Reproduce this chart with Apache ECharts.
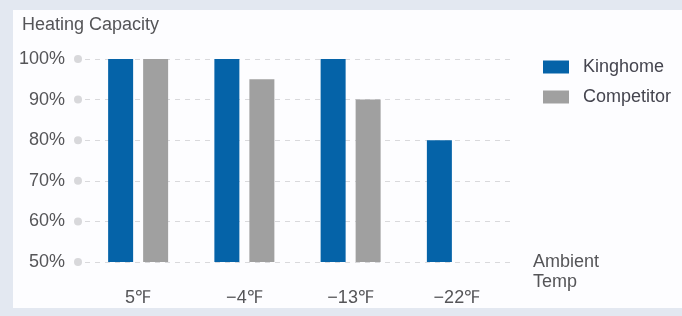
<!DOCTYPE html>
<html><head><meta charset="utf-8">
<script src="https://cdn.jsdelivr.net/npm/echarts@6/dist/echarts.min.js"></script>
<style>html,body{margin:0;padding:0;}#c{width:682px;height:316px;}</style>
</head><body><div id="c"></div>
<script>
const categories = ['5℉', '−4℉', '−13℉', '−22℉'];
const kinghome = [100, 100, 100, 80];
const competitor = [100, 95, 90, null];
const yTicks = [50, 60, 70, 80, 90, 100];

const textColor = '#555558';
const font = 'Liberation Sans, Arial, sans-serif';
const chart = echarts.init(document.getElementById('c'));
chart.setOption({
  backgroundColor: '#e3e8f1',
  animation: false,
  graphic: [{ type: 'rect', shape: { x: 13, y: 10, width: 669, height: 298 }, style: { fill: '#fdfdff' }, z: -1 }],
  title: [
    { text: 'Heating Capacity', left: 17, top: 11, textStyle: { fontSize: 18, fontWeight: 'normal', color: textColor, fontFamily: font } },
    { text: 'Ambient\nTemp', left: 533, top: 252, padding: 0, textStyle: { fontSize: 18, fontWeight: 'normal', color: textColor, fontFamily: font, lineHeight: 20 } }
  ],
  legend: {
    orient: 'vertical', left: 543, top: 58, padding: 0, icon: 'rect', itemWidth: 26, itemHeight: 13, itemGap: 12,
    textStyle: { fontSize: 18, color: '#45454f', fontFamily: font, padding: [0, 0, 0, 9] },
    data: ['Kinghome', 'Competitor']
  },
  grid: { left: 85, right: 172, top: 59, bottom: 54 },
  xAxis: {
    type: 'category', data: categories,
    axisLine: { show: false }, axisTick: { show: false },
    axisLabel: { margin: 27, fontSize: 18, color: textColor, fontFamily: font }
  },
  yAxis: {
    type: 'value', min: yTicks[0], max: yTicks[yTicks.length - 1], interval: 10,
    axisLine: { show: false },
    axisTick: { show: false },
    axisLabel: {
      margin: 3,
      formatter: v => '{t|' + v + '%}{s|}{d|}',
      rich: {
        t: { fontSize: 18, color: textColor, fontFamily: font },
        s: { width: 9, height: 2 },
        d: { width: 8, height: 8, borderRadius: 4, backgroundColor: '#d8d8db' }
      }
    },
    splitLine: { lineStyle: { color: '#d9d9dc', type: [5, 5], width: 1 } }
  },
  series: [
    { name: 'Kinghome', type: 'bar', data: kinghome, barWidth: 25, barGap: '40%',
      itemStyle: { color: '#0563a8' } },
    { name: 'Competitor', type: 'bar', data: competitor, barWidth: 25,
      itemStyle: { color: '#a0a0a0' } }
  ]
});
</script></body></html>
